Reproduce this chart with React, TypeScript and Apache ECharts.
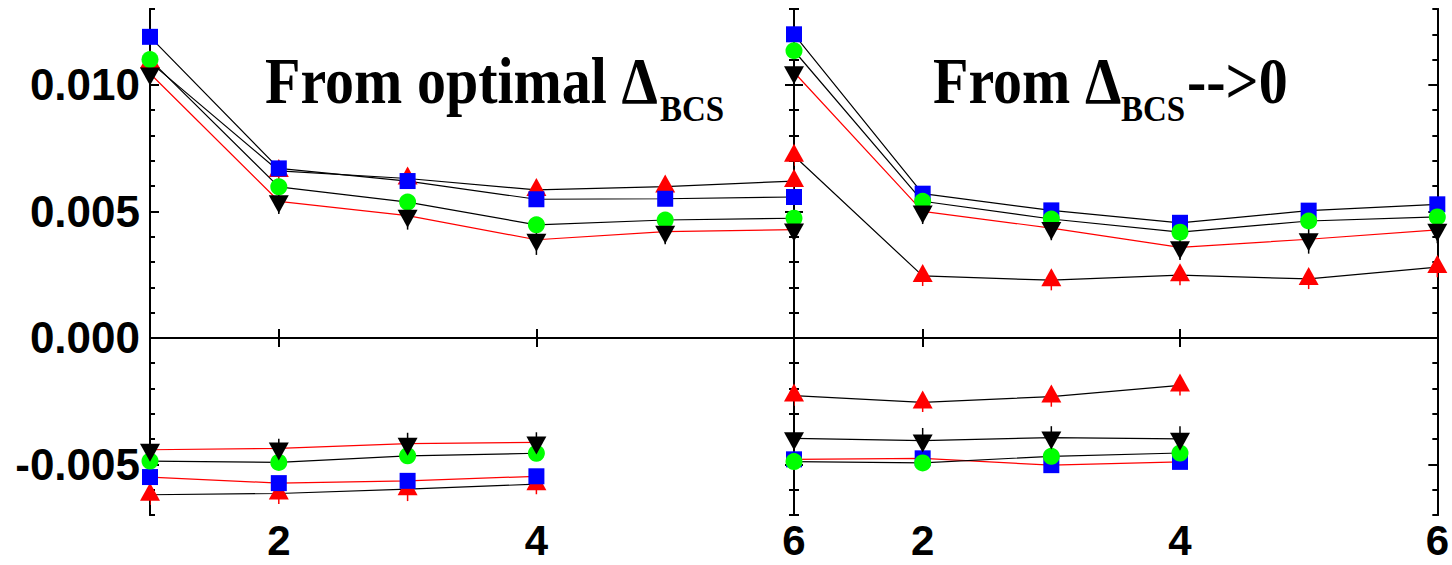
import React, { useEffect, useRef } from "react";
import * as echarts from "echarts";

// x positions
const xFull = [1, 2, 3, 4, 5, 6];
const xLow = [1, 2, 3, 4];

// Left panel: "From optimal Δ_BCS"
const optSquareUp = [0.0119, 0.0067, 0.0062, 0.00548, 0.0055, 0.00557];
const optTriUpUp = [0.0109, 0.0066, 0.0063, 0.00585, 0.00598, 0.0062];
const optCircleUp = [0.011, 0.00597, 0.00537, 0.00447, 0.00466, 0.00473];
const optTriDownUp = [0.01045, 0.0054, 0.00483, 0.00388, 0.0042, 0.00428];
const optSquareLow = [-0.0055, -0.00574, -0.00565, -0.00547];
const optTriUpLow = [-0.0062, -0.00615, -0.00598, -0.00578];
const optCircleLow = [-0.00487, -0.00492, -0.00466, -0.00456];
const optTriDownLow = [-0.00442, -0.00437, -0.00418, -0.00413];

// Right panel: "From Δ_BCS-->0"
const zeroSquareUp = [0.012, 0.0057, 0.00504, 0.00455, 0.00503, 0.00528];
const zeroCircleUp = [0.01135, 0.0054, 0.0047, 0.00418, 0.00462, 0.00478];
const zeroTriDownUp = [0.0105, 0.005, 0.00434, 0.00358, 0.0039, 0.00427];
const zeroTriUpUp = [0.0072, 0.00245, 0.00228, 0.00248, 0.00233, 0.0028];
const zeroTriUpLow = [-0.00228, -0.00255, -0.00232, -0.00188];
const zeroTriDownLow = [-0.00397, -0.00406, -0.00394, -0.00399];
const zeroSquareLow = [-0.0048, -0.00476, -0.00503, -0.0049];
const zeroCircleLow = [-0.00489, -0.00494, -0.00468, -0.00455];

// error bars (half-lengths) of the triangle series
const optTriUpUpErr = [0.0004, 0.0004, 0.0004, 0.0004, 0.0004, 0.0004];
const optTriDownUpErr = [0.0005, 0.0005, 0.00055, 0.0006, 0.0005, 0.0005];
const optTriUpLowErr = [0.0004, 0.00042, 0.00047, 0.0004];
const optTriDownLowErr = [0.0004, 0.00038, 0.00043, 0.0004];
const zeroTriDownUpErr = [0.0005, 0.0005, 0.00048, 0.0005, 0.00057, 0.00053];
const zeroTriUpUpErr = [0.0004, 0.0004, 0.0004, 0.0004, 0.0004, 0.0004];
const zeroTriUpLowErr = [0.0004, 0.00038, 0.0004, 0.0004];
const zeroTriDownLowErr = [0.0005, 0.0005, 0.00045, 0.0005];

// axis ticks
const yMajorTicks = [-0.005, 0, 0.005, 0.01];
const xLabelTicks = [2, 4, 6];
const xTopTicks = [2, 4];

const RED = "#ff0000";
const BLACK = "#000000";
const BLUE = "#0000ff";
const GREEN = "#00ff00";

type Shape = "square" | "circle" | "up" | "down";

const markerDef: Record<Shape, any> = {
  up: { symbol: "triangle", symbolSize: [20, 18], symbolOffset: [0, -3], color: RED },
  square: { symbol: "rect", symbolSize: [16, 16], symbolOffset: [0, 0], color: BLUE },
  circle: { symbol: "circle", symbolSize: [17, 17], symbolOffset: [0, 0], color: GREEN },
  down: { symbol: "path://M0,0L2,0L1,1.8Z", symbolSize: [20, 18], symbolOffset: [0, 3], color: BLACK },
};

interface Set {
  panel: number;
  shape: Shape;
  xs: number[];
  ys: number[];
  line: string;
  err?: number[];
}

const sets: Set[] = [
  { panel: 0, shape: "square", xs: xFull, ys: optSquareUp, line: BLACK },
  { panel: 0, shape: "up", xs: xFull, ys: optTriUpUp, line: BLACK, err: optTriUpUpErr },
  { panel: 0, shape: "circle", xs: xFull, ys: optCircleUp, line: BLACK },
  { panel: 0, shape: "down", xs: xFull, ys: optTriDownUp, line: RED, err: optTriDownUpErr },
  { panel: 0, shape: "square", xs: xLow, ys: optSquareLow, line: RED },
  { panel: 0, shape: "up", xs: xLow, ys: optTriUpLow, line: BLACK, err: optTriUpLowErr },
  { panel: 0, shape: "circle", xs: xLow, ys: optCircleLow, line: BLACK },
  { panel: 0, shape: "down", xs: xLow, ys: optTriDownLow, line: RED, err: optTriDownLowErr },
  { panel: 1, shape: "square", xs: xFull, ys: zeroSquareUp, line: BLACK },
  { panel: 1, shape: "circle", xs: xFull, ys: zeroCircleUp, line: BLACK },
  { panel: 1, shape: "down", xs: xFull, ys: zeroTriDownUp, line: RED, err: zeroTriDownUpErr },
  { panel: 1, shape: "up", xs: xFull, ys: zeroTriUpUp, line: BLACK, err: zeroTriUpUpErr },
  { panel: 1, shape: "up", xs: xLow, ys: zeroTriUpLow, line: BLACK, err: zeroTriUpLowErr },
  { panel: 1, shape: "down", xs: xLow, ys: zeroTriDownLow, line: BLACK, err: zeroTriDownLowErr },
  { panel: 1, shape: "square", xs: xLow, ys: zeroSquareLow, line: RED },
  { panel: 1, shape: "circle", xs: xLow, ys: zeroCircleLow, line: BLACK },
];

const labelFont = {
  fontFamily: "Liberation Sans, Arial, sans-serif",
  fontWeight: "bold" as const,
  fontSize: 44,
  color: "#000",
};

function buildOption() {
  const grids = [
    { left: 150, top: 9, width: 644, height: 506 },
    { left: 794, top: 9, width: 644, height: 506 },
  ];
  const xAxes: any[] = [];
  const yAxes: any[] = [];
  [0, 1].forEach((gi) => {
    const base = {
      type: "value",
      gridIndex: gi,
      min: 1,
      max: 6,
      interval: 1,
      splitLine: { show: false },
      axisLine: { show: true, lineStyle: { color: "#000", width: 2 } },
    };
    xAxes.push({
      ...base,
      position: "bottom",
      axisTick: { show: true, inside: true, length: 9, customValues: xLabelTicks, lineStyle: { color: "#000", width: 2 } },
      axisLabel: { show: true, customValues: xLabelTicks, margin: 10, lineHeight: 30, ...labelFont, fontSize: 42 },
    });
    xAxes.push({
      ...base,
      position: "top",
      axisTick: { show: true, inside: true, length: 9, customValues: xTopTicks, lineStyle: { color: "#000", width: 2 } },
      axisLabel: { show: false },
    });
    const yBase = {
      type: "value",
      gridIndex: gi,
      min: -0.007,
      max: 0.013,
      interval: 0.001,
      splitLine: { show: false },
      axisLine: { show: true, lineStyle: { color: "#000", width: 2 } },
    };
    (["left", "right"] as const).forEach((pos) => {
      yAxes.push({
        ...yBase,
        position: pos,
        axisTick: { show: true, inside: true, length: 5, lineStyle: { color: "#000", width: 2 } },
        axisLabel: { show: false },
      });
      yAxes.push({
        ...yBase,
        position: pos,
        axisTick: { show: true, inside: true, length: 9, customValues: yMajorTicks, lineStyle: { color: "#000", width: 2 } },
        axisLabel: {
          show: gi === 0 && pos === "left",
          customValues: yMajorTicks,
          margin: 10,
          formatter: (v: number) => v.toFixed(3),
          ...labelFont,
        },
      });
    });
  });

  const series: any[] = [];
  // lines under markers
  sets.forEach((s) => {
    series.push({
      type: "line",
      xAxisIndex: s.panel * 2,
      yAxisIndex: s.panel * 4,
      data: s.xs.map((x, i) => [x, s.ys[i]]),
      symbol: "none",
      lineStyle: { color: s.line, width: 1.2 },
      z: 2,
      silent: true,
    });
  });
  // zero lines
  [0, 1].forEach((gi) => {
    series.push({
      type: "line",
      xAxisIndex: gi * 2,
      yAxisIndex: gi * 4,
      data: [],
      markLine: {
        silent: true,
        symbol: "none",
        label: { show: false },
        lineStyle: { color: "#000", width: 2, type: "solid" },
        data: [{ yAxis: 0 }],
      },
      z: 2,
    });
  });
  // markers (with their error bars), in drawing order
  (["up", "square", "circle", "down"] as Shape[]).forEach((shape) => {
    sets
      .filter((s) => s.shape === shape)
      .forEach((s) => {
        const m = markerDef[shape];
        if (s.err) {
          const err = s.err;
          series.push({
            type: "custom",
            xAxisIndex: s.panel * 2,
            yAxisIndex: s.panel * 4,
            data: s.xs.map((x, i) => [x, s.ys[i], err[i]]),
            z: 3,
            silent: true,
            clip: true,
            renderItem: (params: any, api: any) => {
              const x = api.value(0);
              const y = api.value(1);
              const e = api.value(2);
              const p1 = api.coord([x, y - e]);
              const p2 = api.coord([x, y + e]);
              return {
                type: "line",
                shape: { x1: p1[0], y1: p1[1], x2: p2[0], y2: p2[1] },
                style: { stroke: m.color, lineWidth: 1.5 },
              };
            },
          });
        }
        series.push({
          type: "scatter",
          xAxisIndex: s.panel * 2,
          yAxisIndex: s.panel * 4,
          data: s.xs.map((x, i) => [x, s.ys[i]]),
          symbol: m.symbol,
          symbolSize: m.symbolSize,
          symbolOffset: m.symbolOffset,
          itemStyle: { color: m.color, opacity: 1 },
          z: 3,
          silent: true,
        });
      });
  });

  const titleFont = "bold 58px 'Liberation Serif', 'Times New Roman', serif";
  const subFont = "bold 33px 'Liberation Serif', 'Times New Roman', serif";
  const tStyle = (text: string, font: string) => ({
    text,
    font,
    fill: "#000",
    verticalAlign: "middle",
    align: "left",
  });
  const graphic = [
    { type: "text", x: 265, y: 83, scaleY: 1.12, originY: 20, style: tStyle("From optimal Δ", titleFont) },
    { type: "text", x: 660, y: 109, scaleY: 1.08, originY: 11, style: tStyle("BCS", subFont) },
    { type: "text", x: 933, y: 83, scaleY: 1.12, originY: 20, style: tStyle("From Δ", titleFont) },
    { type: "text", x: 1121, y: 109, scaleY: 1.08, originY: 11, style: tStyle("BCS", subFont) },
    { type: "text", x: 1187, y: 83, scaleY: 1.12, originY: 20, style: tStyle("-->0", titleFont) },
  ];

  return {
    animation: false,
    backgroundColor: "#ffffff",
    grid: grids,
    xAxis: xAxes,
    yAxis: yAxes,
    series,
    graphic,
  };
}

export default function App() {
  const ref = useRef<HTMLDivElement>(null);
  useEffect(() => {
    if (!ref.current) return;
    const chart = echarts.init(ref.current, null, { renderer: "svg" });
    chart.setOption(buildOption() as any);
    return () => chart.dispose();
  }, []);
  return (
    <div
      ref={ref}
      style={{ position: "fixed", left: 0, top: 0, width: 1452, height: 565, background: "#fff" }}
    />
  );
}
